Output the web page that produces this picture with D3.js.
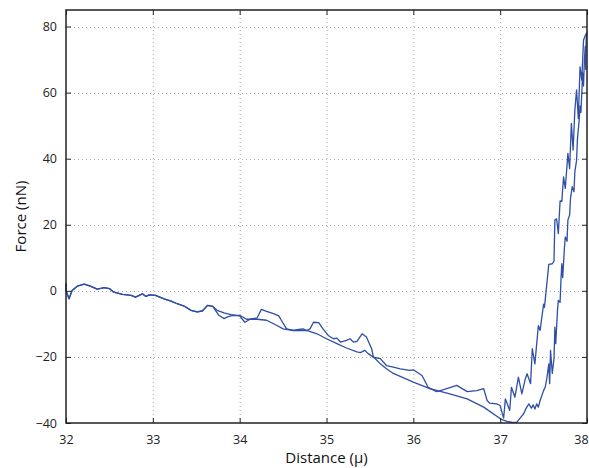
<!DOCTYPE html>
<html>
<head>
<meta charset="utf-8">
<script src="https://cdn.jsdelivr.net/npm/d3@7"></script>
<style>
  body { margin: 0; background: #fff; }
  svg { font-family: "Open Sans", "Noto Sans", sans-serif; }
</style>
</head>
<body>
<svg id="chart"></svg>
<script>
// 축 눈금
const xTicks = [32, 33, 34, 35, 36, 37, 38];
const yTicks = [-40, -20, 0, 20, 40, 60, 80];

// 공통 구간 (32 ~ 33.7)
const sharedStart = [
  [32.00, 2.2], [32.00, 0.0], [32.035, -2.4], [32.07, 0.1], [32.13, 1.4], [32.21, 2.0],
  [32.28, 1.4], [32.36, 0.5], [32.44, 1.0], [32.50, 0.7], [32.55, -0.4], [32.65, -1.1],
  [32.75, -1.4], [32.80, -1.9], [32.88, -0.9], [32.92, -1.7], [32.96, -1.2], [33.03, -1.4],
  [33.13, -2.4], [33.21, -3.1], [33.28, -3.9], [33.36, -4.6], [33.44, -5.9], [33.51, -6.4],
  [33.57, -6.1], [33.63, -4.4], [33.69, -4.7]
];

// 울퉁불퉁한 곡선 + 왼쪽 상승
const retractTail = [
  [33.76, -7.4], [33.82, -8.4], [33.86, -7.9], [33.92, -7.4], [34.00, -7.6], [34.06, -9.5],
  [34.12, -8.6], [34.20, -8.2], [34.25, -5.6], [34.31, -6.2], [34.39, -6.9], [34.45, -7.6],
  [34.48, -8.9], [34.54, -11.5], [34.62, -12.0], [34.68, -11.7], [34.73, -11.5], [34.77, -12.0],
  [34.81, -11.5], [34.85, -9.5], [34.91, -9.6], [34.96, -11.5], [35.02, -13.5], [35.08, -14.5],
  [35.12, -14.3], [35.16, -15.5], [35.23, -15.0], [35.27, -14.5], [35.31, -15.5], [35.35, -15.3],
  [35.41, -13.0], [35.46, -14.0], [35.52, -17.5], [35.54, -20.1], [35.62, -20.5], [35.69, -22.6],
  [35.77, -23.1], [35.85, -23.6], [35.96, -24.1], [36.00, -23.9], [36.10, -25.6], [36.17, -29.2],
  [36.27, -30.5], [36.35, -29.9], [36.50, -28.6], [36.62, -30.5], [36.73, -30.2], [36.81, -29.6],
  [36.85, -33.2], [36.88, -34.0], [36.96, -34.2], [37.00, -34.7], [37.02, -36.7], [37.04, -38.5],
  [37.06, -32.7], [37.11, -36.2], [37.13, -29.2], [37.17, -32.2], [37.21, -26.1], [37.25, -31.2],
  [37.29, -26.6], [37.31, -25.1], [37.35, -28.1], [37.37, -17.5], [37.40, -22.1], [37.44, -10.5],
  [37.46, -12.0], [37.50, -4.0], [37.51, -5.0], [37.56, 8.0], [37.60, 8.2], [37.62, 9.0],
  [37.63, 21.4], [37.65, 21.8], [37.67, 17.3], [37.69, 27.2], [37.71, 27.0], [37.73, 34.5],
  [37.75, 31.0], [37.78, 41.6], [37.80, 37.0], [37.82, 50.7], [37.84, 42.6], [37.86, 54.7],
  [37.88, 60.8], [37.90, 52.2], [37.92, 67.8], [37.94, 63.8], [37.96, 75.9], [37.99, 77.9]
];

// 완만한 곡선 + 오른쪽 상승
const approachTail = [
  [33.74, -5.9], [33.82, -6.7], [33.90, -7.2], [33.97, -7.4], [34.00, -7.4], [34.08, -8.6],
  [34.20, -8.6], [34.31, -8.9], [34.43, -10.5], [34.50, -11.5], [34.62, -12.0], [34.77, -12.0],
  [34.89, -13.0], [35.00, -14.5], [35.12, -16.0], [35.23, -17.3], [35.35, -18.5], [35.39, -18.7],
  [35.44, -18.0], [35.48, -19.0], [35.56, -20.5], [35.62, -22.1], [35.69, -23.6], [35.77, -25.0],
  [36.00, -27.6], [36.19, -29.6], [36.42, -31.2], [36.62, -32.7], [36.81, -35.2], [37.02, -39.0],
  [37.08, -39.5], [37.14, -39.8], [37.19, -39.8], [37.23, -38.5], [37.27, -37.2], [37.30, -35.5],
  [37.33, -34.2], [37.36, -35.5], [37.38, -34.5], [37.40, -35.8], [37.42, -34.2], [37.44, -35.2],
  [37.46, -33.2], [37.50, -30.2], [37.52, -29.0], [37.54, -26.1], [37.56, -22.1], [37.57, -28.1],
  [37.58, -18.0], [37.60, -25.0], [37.62, -20.5], [37.63, -11.0], [37.64, -16.0], [37.66, -6.0],
  [37.67, -2.9], [37.69, -3.5], [37.70, 3.2], [37.71, 8.2], [37.72, 4.0], [37.74, 13.0],
  [37.75, 16.3], [37.77, 15.0], [37.78, 21.4], [37.80, 23.0], [37.81, 28.0], [37.83, 31.5],
  [37.85, 30.0], [37.86, 36.0], [37.88, 39.5], [37.89, 46.0], [37.91, 51.7], [37.92, 56.0],
  [37.93, 54.0], [37.94, 59.8], [37.95, 66.0], [37.96, 62.0], [37.97, 69.8], [37.98, 74.0],
  [37.985, 67.0], [37.99, 76.0], [38.00, 78.5]
];

const series = [sharedStart.concat(approachTail), sharedStart.concat(retractTail)];

const W = 589, H = 468;
const margin = { top: 10, right: 2, bottom: 45, left: 66 };
const width = W - margin.left - margin.right;
const height = H - margin.top - margin.bottom;

const svg = d3.select("#chart")
    .attr("width", W)
    .attr("height", H);

const g = svg.append("g")
    .attr("transform", `translate(${margin.left},${margin.top})`);

const x = d3.scaleLinear().domain([32, 38]).range([0, width]);
const y = d3.scaleLinear().domain([-40, 85]).range([height, 0]);

// 격자
g.append("g").selectAll("line")
    .data(xTicks.slice(1, -1))
    .enter().append("line")
    .attr("x1", d => x(d) + 0.5).attr("x2", d => x(d) + 0.5)
    .attr("y1", 0).attr("y2", height)
    .attr("stroke", "#aaa").attr("stroke-dasharray", "1,3");

g.append("g").selectAll("line")
    .data(yTicks.slice(1))
    .enter().append("line")
    .attr("y1", d => Math.round(y(d)) + 0.5).attr("y2", d => Math.round(y(d)) + 0.5)
    .attr("x1", 0).attr("x2", width)
    .attr("stroke", "#aaa").attr("stroke-dasharray", "1,3");

// 곡선
const line = d3.line().x(d => x(d[0])).y(d => y(d[1]));
g.append("g").selectAll("path")
    .data(series)
    .enter().append("path")
    .attr("d", line)
    .attr("fill", "none")
    .attr("stroke", "#2f4ea5")
    .attr("stroke-width", 1.3)
    .attr("stroke-linejoin", "round");

// 축 (안쪽 눈금, 네 변 모두)
const fmt = d => d < 0 ? "\u2212" + Math.abs(d) : String(d);

const xAxis = g.append("g")
    .attr("transform", `translate(0,${height})`)
    .call(d3.axisBottom(x).tickValues(xTicks).tickSizeInner(-5).tickSizeOuter(0).tickPadding(12).tickFormat(fmt));
const yAxis = g.append("g")
    .call(d3.axisLeft(y).tickValues(yTicks).tickSizeInner(-5).tickSizeOuter(0).tickPadding(9).tickFormat(fmt));
g.append("g")
    .call(d3.axisTop(x).tickValues(xTicks).tickSizeInner(-5).tickSizeOuter(0).tickFormat(""));
g.append("g")
    .attr("transform", `translate(${width},0)`)
    .call(d3.axisRight(y).tickValues(yTicks).tickSizeInner(-5).tickSizeOuter(0).tickFormat(""));

g.selectAll(".domain").remove();
g.selectAll(".tick line").attr("stroke", "#222");
g.selectAll(".tick text").attr("fill", "#222").style("font-size", "12.5px")
    .style("font-family", "'Open Sans', sans-serif");

// 마지막 x 라벨이 잘리지 않도록 살짝 왼쪽으로
xAxis.selectAll(".tick text").filter(d => d === 38).attr("dx", "-6");

// 테두리
g.append("rect")
    .attr("x", 0).attr("y", 0)
    .attr("width", width).attr("height", height)
    .attr("fill", "none")
    .attr("stroke", "#222")
    .attr("stroke-width", 1.5);

// 축 제목
svg.append("text")
    .attr("x", margin.left + width / 2)
    .attr("y", 463)
    .attr("text-anchor", "middle")
    .style("font-size", "15px")
    .attr("fill", "#111")
    .text("Distance (\u03bc)");

svg.append("text")
    .attr("transform", `translate(26,${margin.top + height / 2}) rotate(-90)`)
    .attr("text-anchor", "middle")
    .style("font-size", "15px")
    .attr("fill", "#111")
    .text("Force (nN)");
</script>
</body>
</html>
